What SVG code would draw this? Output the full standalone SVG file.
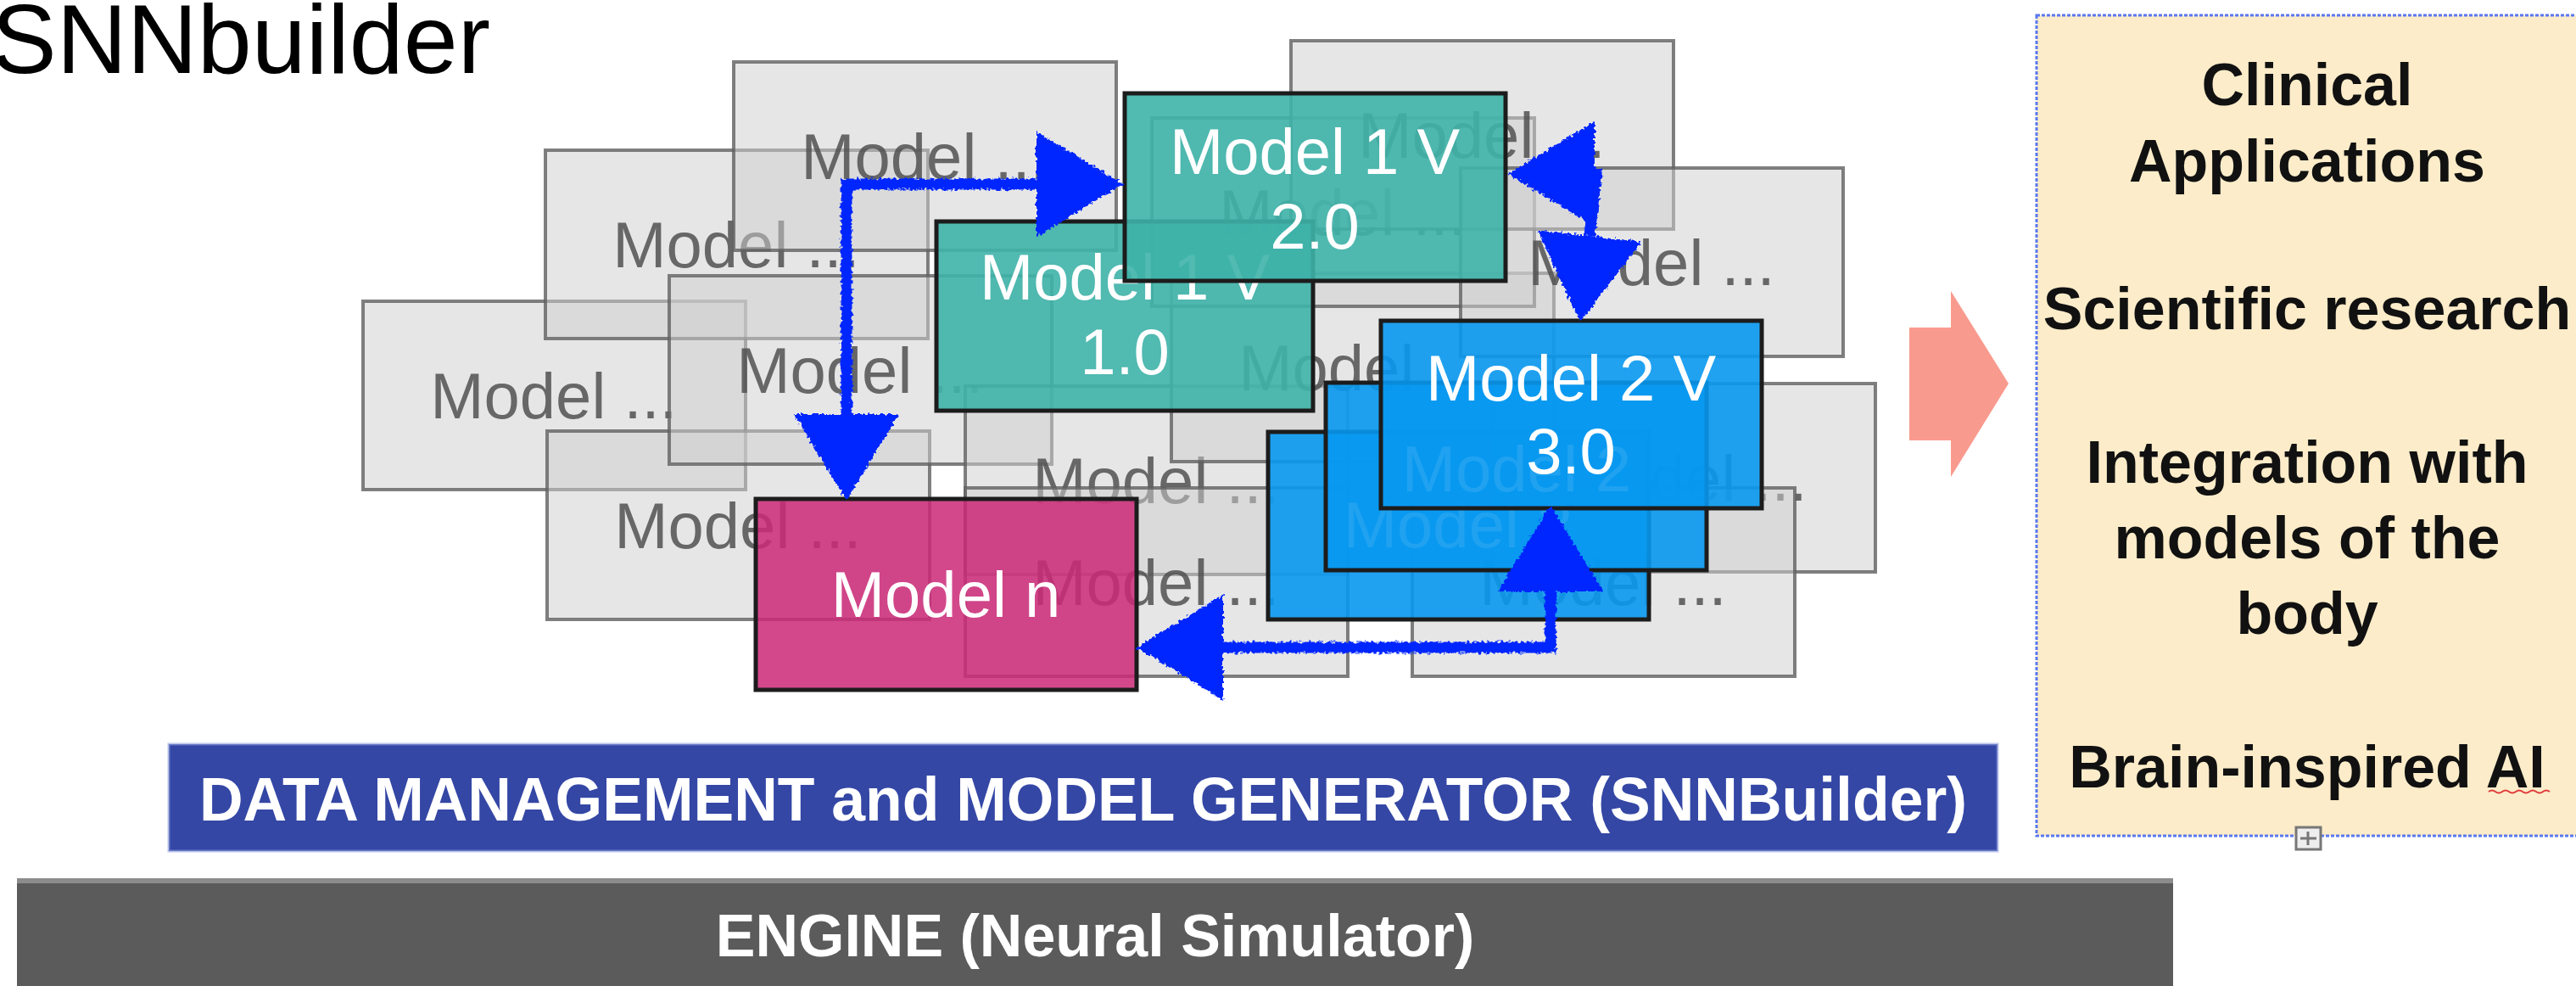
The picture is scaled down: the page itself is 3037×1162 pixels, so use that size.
<svg xmlns="http://www.w3.org/2000/svg" width="3037" height="1162" viewBox="0 0 3037 1162">
  <defs>
    <style>
      .sans { font-family: "Liberation Sans", Arial, Helvetica, sans-serif; }
      .grey rect { fill: #cfcfcf; fill-opacity: 0.52; stroke: #606060; stroke-opacity: 0.8; stroke-width: 4; }
      .grey text { font-family: "Liberation Sans", Arial, sans-serif; font-size: 76px; fill: #505050; fill-opacity: 0.85; text-anchor: middle; }
      .model rect { stroke: #1c1c1c; stroke-width: 5; }
      .model text { font-family: "Liberation Sans", Arial, sans-serif; font-size: 76px; fill: #fff; text-anchor: middle; }
      .teal rect { fill: #3eb2a9; fill-opacity: 0.9; }
      .blue rect { fill: #0898f0; fill-opacity: 0.9; }
      .magenta rect { fill: #cc2a78; fill-opacity: 0.86; }
      .link { fill: none; stroke: #0628ff; stroke-width: 13; stroke-linejoin: miter; }
      .use text { font-family: "Liberation Sans", Arial, sans-serif; font-weight: bold; font-size: 70px; fill: #111; text-anchor: middle; }
      .bar text { font-family: "Liberation Sans", Arial, sans-serif; font-weight: bold; fill: #fff; text-anchor: middle; }
    </style>
    <marker id="head" markerUnits="userSpaceOnUse" markerWidth="102" markerHeight="124" viewBox="0 0 102 124" refX="0" refY="62" orient="auto-start-reverse">
      <path d="M0,0 L102,62 L0,124 z" fill="#0628ff"/>
    </marker>
    <filter id="rough" filterUnits="userSpaceOnUse" x="0" y="0" width="3037" height="1162">
      <feTurbulence type="fractalNoise" baseFrequency="0.3" numOctaves="1" seed="4"/>
      <feDisplacementMap in="SourceGraphic" scale="8" xChannelSelector="R" yChannelSelector="G"/>
    </filter>
  </defs>

  <rect width="3037" height="1162" fill="#fff"/>

  <!-- title -->
  <text class="sans" x="-10" y="86" font-size="115" fill="#000">SNNbuilder</text>

  <!-- background cloud of unnamed models -->
  <g id="model-c" class="grey"><rect x="428" y="355" width="451" height="222"/><text x="653" y="493">Model ...</text></g>
  <g id="model-d" class="grey"><rect x="645" y="508" width="451" height="222"/><text x="870" y="646">Model ...</text></g>
  <g id="model-b" class="grey"><rect x="643" y="177" width="451" height="222"/><text x="868" y="315">Model ...</text></g>
  <g id="model-e" class="grey"><rect x="789" y="325" width="451" height="222"/><text x="1014" y="463">Model ...</text></g>
  <g id="model-a" class="grey"><rect x="865" y="73" width="451" height="222"/><text x="1090" y="211">Model ...</text></g>
  <g id="model-l" class="grey"><rect x="1138" y="455" width="451" height="222"/><text x="1363" y="593">Model ...</text></g>
  <g id="model-i" class="grey"><rect x="1138" y="575" width="451" height="222"/><text x="1363" y="713">Model ...</text></g>
  <g id="model-m" class="grey"><rect x="1381" y="322" width="451" height="222"/><text x="1606" y="460">Model ...</text></g>
  <g id="model-h" class="grey"><rect x="1358" y="139" width="451" height="222"/><text x="1583" y="277">Model ...</text></g>
  <g id="model-f" class="grey"><rect x="1522" y="48" width="451" height="222"/><text x="1747" y="186">Model ...</text></g>
  <g id="model-g" class="grey"><rect x="1722" y="198" width="451" height="222"/><text x="1947" y="336">Model ...</text></g>
  <g id="model-j" class="grey"><rect x="1760" y="452" width="451" height="222"/><text x="1985" y="590">Model ...</text></g>
  <g id="model-k" class="grey"><rect x="1665" y="575" width="451" height="222"/><text x="1890" y="713">Model ...</text></g>

  <!-- named model versions -->
  <g id="model1-v1" class="model teal">
    <rect x="1104" y="261" width="444" height="223"/>
    <text x="1326" y="353">Model 1 V</text><text x="1326" y="441">1.0</text>
  </g>
  <g id="model1-v2" class="model teal">
    <rect x="1326" y="110" width="449" height="221"/>
    <text x="1550" y="205">Model 1 V</text><text x="1550" y="293">2.0</text>
  </g>
  <g id="model2-v1" class="model blue">
    <rect x="1495" y="509" width="449" height="221"/>
    <text x="1719" y="645">Model 2</text>
  </g>
  <g id="model2-v2" class="model blue">
    <rect x="1563" y="451" width="449" height="221"/>
    <text x="1788" y="579">Model 2</text>
  </g>
  <g id="model2-v3" class="model blue">
    <rect x="1628" y="378" width="449" height="221"/>
    <text x="1852" y="472">Model 2 V</text><text x="1852" y="558">3.0</text>
  </g>
  <g id="model-n" class="model magenta">
    <rect x="891" y="588" width="449" height="225"/>
    <text x="1115" y="727">Model n</text>
  </g>

  <!-- hand-drawn exchange arrows -->
  <g id="connectors" filter="url(#rough)">
    <path class="link" d="M998,488 L998,217 L1222,217" marker-start="url(#head)" marker-end="url(#head)"/>
    <path class="link" d="M1880,205 L1882,205 L1874,278" marker-start="url(#head)" marker-end="url(#head)"/>
    <path class="link" d="M1828,697 L1828,763 L1442,763" marker-start="url(#head)" marker-end="url(#head)"/>
  </g>

  <!-- outcome arrow -->
  <g id="outcome-arrow">
    <path d="M2251,386 L2300,386 L2300,343 L2368,452 L2300,562 L2300,519 L2251,519 Z" fill="#f99a8e"/>
  </g>

  <!-- applications panel -->
  <g id="applications" class="use">
    <rect x="2401" y="18" width="700" height="967" fill="#fcecc9" stroke="#5a78f0" stroke-width="3" stroke-dasharray="4 2"/>
    <text x="2720" y="124">Clinical</text>
    <text x="2720" y="214">Applications</text>
    <text x="2720" y="388">Scientific research</text>
    <text x="2720" y="569">Integration with</text>
    <text x="2720" y="658">models of the</text>
    <text x="2720" y="747">body</text>
    <text x="2720" y="928">Brain-inspired AI</text>
    <path d="M2934,933 q4,-3 8,0 t8,0 t8,0 t8,0 t8,0 t8,0 t8,0 t8,0 t8,0" fill="none" stroke="#e03a3a" stroke-width="2"/>
    <g fill="none" stroke="#777" stroke-width="3">
      <rect x="2707" y="975" width="29" height="26" fill="#eee"/>
      <path d="M2721,980 V996 M2712,988 H2731"/>
    </g>
  </g>

  <!-- platform layers -->
  <g id="data-management" class="bar">
    <rect x="199" y="877" width="2156" height="126" fill="#3447a5" stroke="#8e9cdc" stroke-opacity="0.6" stroke-width="3"/>
    <text x="1277" y="967" font-size="71.5">DATA MANAGEMENT and MODEL GENERATOR (SNNBuilder)</text>
  </g>
  <g id="engine" class="bar">
    <rect x="20" y="1035" width="2542" height="130" fill="#5b5b5b"/>
    <rect x="20" y="1035" width="2542" height="6" fill="#8c8c8c"/>
    <text x="1291" y="1127" font-size="70">ENGINE (Neural Simulator)</text>
  </g>
</svg>
